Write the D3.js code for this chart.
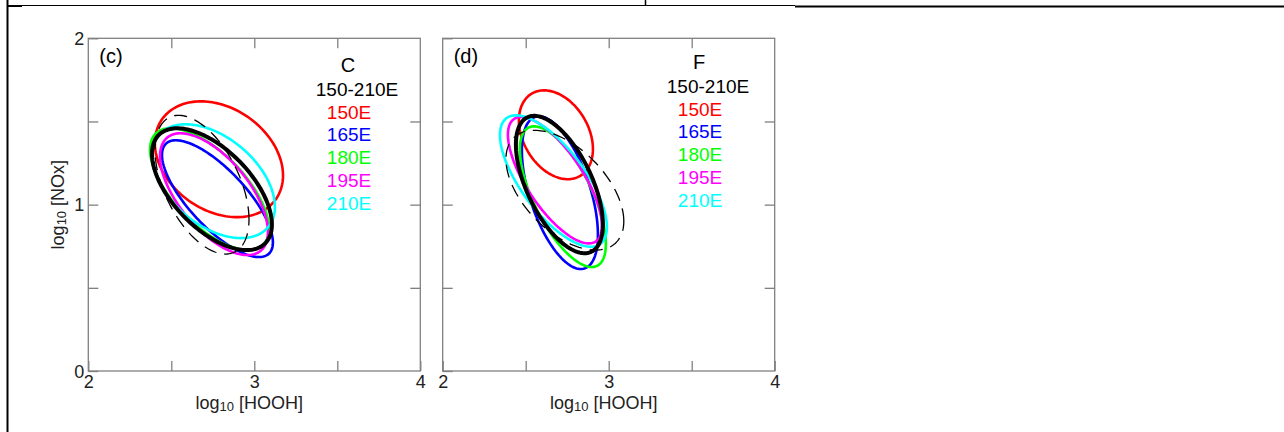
<!DOCTYPE html>
<html>
<head>
<meta charset="utf-8">
<script src="https://cdn.jsdelivr.net/npm/d3@7"></script>
<style>
  html, body { margin: 0; padding: 0; background: #fff; }
  body { width: 1284px; height: 432px; overflow: hidden; }
  text { font-family: "Liberation Sans", Arial, Helvetica, sans-serif; }
</style>
</head>
<body>
<svg width="1284" height="432"></svg>
<script>
// series order used by every array below
const seriesNames = ["150-210E", "150E", "165E", "180E", "195E", "210E"];
const seriesColors = ["#000000", "#ff0000", "#0000ff", "#00ff00", "#ff00ff", "#00ffff"];
const regionNames = ["C", "F"];
const panelLabels = ["(c)", "(d)"];
const xTickLabels = [2, 3, 4];
const yTickLabels = [0, 1, 2];

// ellipse stats (log10 HOOH mean, log10 NOx mean, sd x, sd y, correlation)
const cMeanX = [2.745, 2.787, 2.778, 2.730, 2.757, 2.754];
const cMeanY = [1.093, 1.273, 1.036, 1.093, 1.063, 1.141];
const cSdX   = [0.361, 0.386, 0.334, 0.358, 0.325, 0.370];
const cSdY   = [0.366, 0.348, 0.351, 0.366, 0.366, 0.342];
const cRho   = [-0.58, -0.28, -0.75, -0.65, -0.62, -0.45];
const cRef   = [2.685, 1.120, 0.283, 0.417, -0.50]; // dashed

const dMeanX = [2.703, 2.682, 2.706, 2.724, 2.676, 2.667];
const dMeanY = [1.121, 1.420, 1.072, 1.048, 1.147, 1.142];
const dSdX   = [0.262, 0.223, 0.229, 0.259, 0.283, 0.322];
const dSdY   = [0.413, 0.267, 0.459, 0.423, 0.380, 0.395];
const dRho   = [-0.58, -0.32, -0.55, -0.67, -0.72, -0.70];
const dRef   = [2.736, 1.087, 0.355, 0.360, -0.52]; // dashed

const svg = d3.select('svg');
const axisGrey = '#808080';

// page border lines (table around the figure)
svg.append('line').attr('x1', 7.5).attr('x2', 7.5).attr('y1', 0).attr('y2', 432)
  .attr('stroke', '#000').attr('stroke-width', 2);
svg.append('line').attr('x1', 8).attr('x2', 795).attr('y1', 5.5).attr('y2', 5.5)
  .attr('stroke', '#000').attr('stroke-width', 1);
svg.append('line').attr('x1', 8).attr('x2', 22).attr('y1', 6).attr('y2', 6)
  .attr('stroke', '#000').attr('stroke-width', 2);
svg.append('line').attr('x1', 645.5).attr('x2', 645.5).attr('y1', 0).attr('y2', 5)
  .attr('stroke', '#000').attr('stroke-width', 1.5);
svg.append('line').attr('x1', 795).attr('x2', 1284).attr('y1', 6.5).attr('y2', 6.5)
  .attr('stroke', '#000').attr('stroke-width', 2);

const panels = [
  { left: 88.3, label: panelLabels[0], region: regionNames[0], yLabels: true,
    mx: cMeanX, my: cMeanY, sx: cSdX, sy: cSdY, rho: cRho, ref: cRef, legendX: 357, legendY: 65 },
  { left: 442.7, label: panelLabels[1], region: regionNames[1], yLabels: false,
    mx: dMeanX, my: dMeanY, sx: dSdX, sy: dSdY, rho: dRho, ref: dRef, legendX: 708, legendY: 62 }
];
const plotW = 332, plotTop = 38.3, plotBottom = 371;

function ellipsePoints(m) {
  // m = [meanX, meanY, sdX, sdY, rho]
  const pts = [];
  const k = Math.sqrt(1 - m[4] * m[4]);
  for (let i = 0; i < 180; i++) {
    const t = i / 180 * 2 * Math.PI;
    pts.push([m[0] + m[2] * Math.cos(t), m[1] + m[3] * (m[4] * Math.cos(t) + k * Math.sin(t))]);
  }
  return pts;
}

panels.forEach(p => {
  const x = d3.scaleLinear().domain([2, 4]).range([p.left, p.left + plotW]);
  const y = d3.scaleLinear().domain([0, 2]).range([plotBottom, plotTop]);
  const g = svg.append('g');

  // frame
  g.append('rect').attr('x', x(2)).attr('y', y(2))
    .attr('width', x(4) - x(2)).attr('height', y(0) - y(2))
    .attr('fill', 'none').attr('stroke', axisGrey).attr('stroke-width', 1.3);

  const xb = g.append('g').attr('transform', `translate(0,${plotBottom})`)
    .call(d3.axisBottom(x).tickValues([2, 2.5, 3, 3.5, 4]).tickSize(-10).tickPadding(4)
      .tickFormat(d => xTickLabels.includes(d) ? d : ''));
  const xt = g.append('g').attr('transform', `translate(0,${plotTop})`)
    .call(d3.axisTop(x).tickValues([2.5, 3, 3.5]).tickSize(-10).tickFormat(''));
  const yl = g.append('g').attr('transform', `translate(${p.left},0)`)
    .call(d3.axisLeft(y).tickValues([0, 0.5, 1, 1.5, 2]).tickSize(-10).tickPadding(4)
      .tickFormat(d => p.yLabels && yTickLabels.includes(d) ? d : ''));
  const yr = g.append('g').attr('transform', `translate(${p.left + plotW},0)`)
    .call(d3.axisRight(y).tickValues([0.5, 1, 1.5]).tickSize(-10).tickFormat(''));
  [xb, xt, yl, yr].forEach(a => {
    a.select('.domain').remove();
    a.selectAll('line').attr('stroke', axisGrey).attr('stroke-width', 1.3);
    a.selectAll('text').attr('fill', '#222').style('font-size', '18px')
      .style('font-family', '"Liberation Sans", Arial, sans-serif');
  });
  xb.selectAll('text').attr('dy', '0.72em');
  yl.selectAll('text').attr('dy', '0.35em');

  // axis titles
  const xt2 = g.append('text').attr('x', x(3) - 5).attr('y', 409)
    .attr('text-anchor', 'middle').attr('fill', '#222').style('font-size', '18px');
  xt2.append('tspan').text('log');
  xt2.append('tspan').text('10').style('font-size', '13px').attr('dy', 2);
  xt2.append('tspan').text(' [HOOH]').attr('dy', -2);

  if (p.yLabels) {
    const yt = g.append('text').attr('transform', `translate(64,${y(1)}) rotate(-90)`)
      .attr('text-anchor', 'middle').attr('fill', '#222').style('font-size', '18px');
    yt.append('tspan').text('log');
    yt.append('tspan').text('10').style('font-size', '13px').attr('dy', 2);
    yt.append('tspan').text(' [NOx]').attr('dy', -2);
  }

  // panel label
  g.append('text').attr('x', p.left + 11).attr('y', 63).text(p.label)
    .attr('fill', '#000').style('font-size', '20px');

  // ellipses
  const line = d3.line().x(d => x(d[0])).y(d => y(d[1])).curve(d3.curveLinearClosed);
  const order = [1, 2, 3, 4, 5, 0];
  order.forEach(i => {
    g.append('path')
      .attr('d', line(ellipsePoints([p.mx[i], p.my[i], p.sx[i], p.sy[i], p.rho[i]])))
      .attr('fill', 'none').attr('stroke', seriesColors[i])
      .attr('stroke-width', i === 0 ? 4 : 2.6);
  });
  g.append('path').attr('d', line(ellipsePoints(p.ref)))
    .attr('fill', 'none').attr('stroke', '#000').attr('stroke-width', 1.3)
    .attr('stroke-dasharray', '13,8');

  // legend
  g.append('text').attr('x', p.legendX - 9).attr('y', p.legendY + 7).text(p.region)
    .attr('text-anchor', 'middle').attr('fill', '#000').style('font-size', '20px');
  seriesNames.forEach((s, i) => {
    g.append('text').attr('x', p.legendX - (i === 0 ? 0 : 8)).attr('y', p.legendY + 31 + i * 22.7)
      .text(s).attr('text-anchor', 'middle').attr('fill', seriesColors[i]).style('font-size', '19px');
  });
});
</script>
</body>
</html>
